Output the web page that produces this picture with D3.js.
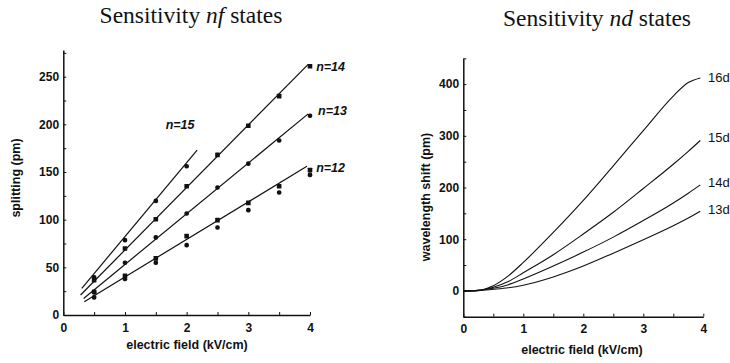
<!DOCTYPE html>
<html lang="en">
<head>
<meta charset="utf-8">
<title>Sensitivity nf / nd states</title>
<script src="https://d3js.org/d3.v7.min.js"></script>
<style>
  body { margin: 0; background: #fff; }
  .title { font-family: "Liberation Serif", "Times New Roman", serif; font-size: 23.5px; fill: #111; }
  .axis text { font-family: "Liberation Sans", Arial, sans-serif; font-weight: bold; font-size: 12px; fill: #111; }
  .axis path, .axis line { stroke: #111; }
  .axis path { stroke-width: 1.5; }
  .lab { font-family: "Liberation Sans", Arial, sans-serif; font-weight: bold; font-size: 12.5px; fill: #111; }
  .nlab { font-family: "Liberation Sans", Arial, sans-serif; font-weight: bold; font-style: italic; font-size: 12.5px; fill: #111; }
  .dlab { font-family: "Liberation Sans", Arial, sans-serif; font-size: 13px; fill: #111; }
  .fit { fill: none; stroke: #111; stroke-width: 1.2; }
  .curve { fill: none; stroke: #111; stroke-width: 1.1; }
</style>
</head>
<body>
<script>
// ---- nf states: measured splittings (pm) vs field (kV/cm) ----
var fields = [0.5, 1, 1.5, 2, 2.5, 3, 3.5, 4];
var n15 = [39.5, 78.5, 119.7, 156];
var n14 = [36.6, 69.8, 100.5, 135, 168, 198.6, 229.6, 261];
var n13 = [23.7, 54.8, 81.4, 106.5, 133.7, 158.8, 183, 209];
var n12a = [24.4, 41, 59.4, 82.7, 99.5, 117.6, 135, 152];
var n12b = [18.5, 37.7, 54.8, 73.3, 91.8, 110, 128.5, 147];
// fitted lines: [x0, y0, x1, y1]
var fitNames = ["n=15", "n=14", "n=13", "n=12"];
var fits = [[0.30, 28, 2.17, 173], [0.28, 21, 3.97, 263], [0.33, 17.4, 3.97, 211], [0.34, 14, 3.95, 156]];

// ---- nd states: wavelength shift (pm) vs field (kV/cm) ----
var ndX = [0, 0.25, 0.5, 0.75, 1, 1.5, 2, 2.5, 3, 3.5, 3.75, 3.95];
var d16 = [0, 1, 10, 29, 55, 113, 175, 242, 310, 377, 403, 412];
var d15 = [0, 1, 7, 18, 35, 70, 110, 152, 198, 245, 270, 291];
var d14 = [0, 1, 5, 12, 23, 48, 75, 104, 136, 170, 189, 205];
var d13 = [0, 0.5, 3, 6, 11, 27, 48, 73, 99, 126, 141, 154];
var ndNames = ["16d", "15d", "14d", "13d"];

var W = 730, H = 363;
var svg = d3.select("body").append("svg").attr("width", W).attr("height", H);

// ================= left panel =================
var xL = d3.scaleLinear().domain([0, 4]).range([63.3, 310]);
var yL = d3.scaleLinear().domain([0, 278]).range([315, 50]);

svg.append("text").attr("class", "title").attr("x", 191).attr("y", 23).attr("text-anchor", "middle")
  .html('Sensitivity <tspan font-style="italic">nf</tspan> states');

svg.append("g").attr("class", "axis").attr("transform", "translate(0,315)")
  .call(d3.axisBottom(xL).ticks(8).tickSize(-3).tickSizeOuter(0)
    .tickFormat(function(d) { return d % 1 === 0 ? d : ""; }))
  .call(function(g) { g.selectAll(".tick text").attr("dy", "1.15em"); });
svg.append("g").attr("class", "axis").attr("transform", "translate(63.3,0)")
  .call(d3.axisLeft(yL).tickValues(d3.range(0, 276, 25)).tickSize(-3).tickSizeOuter(0)
    .tickFormat(function(d) { return d % 50 === 0 ? d : ""; }))
  .call(function(g) { g.selectAll(".tick text").attr("dx", "-0.1em"); });

fits.forEach(function(f) {
  svg.append("line").attr("class", "fit")
    .attr("x1", xL(f[0])).attr("y1", yL(f[1])).attr("x2", xL(f[2])).attr("y2", yL(f[3]));
});

[n15, n14, n13, n12a, n12b].forEach(function(s, i) {
  svg.append("g").selectAll("rect").data(s).join("rect")
    .attr("x", function(d, j) { return xL(fields[j]) - 2.3; })
    .attr("y", function(d) { return yL(d) - 2.3; })
    .attr("width", 4.6).attr("height", 4.6).attr("rx", i % 2 ? 0.5 : 2)
    .attr("fill", "#111");
});

var nPos = [[1.66, 199], [4.1, 260], [4.13, 214], [4.1, 154]];
fitNames.forEach(function(t, i) {
  svg.append("text").attr("class", "nlab").attr("x", xL(nPos[i][0])).attr("y", yL(nPos[i][1]) + 4).text(t);
});

svg.append("text").attr("class", "lab").attr("x", 187).attr("y", 349).attr("text-anchor", "middle")
  .text("electric field (kV/cm)");
svg.append("text").attr("class", "lab").attr("text-anchor", "middle")
  .attr("transform", "translate(20,178) rotate(-90)").text("splitting (pm)");

// ================= right panel =================
var xR = d3.scaleLinear().domain([0, 4]).range([463.3, 703.3]);
var yR = d3.scaleLinear().domain([-50, 450]).range([316.7, 58.3]);

svg.append("text").attr("class", "title").attr("x", 597).attr("y", 26).attr("text-anchor", "middle")
  .html('Sensitivity <tspan font-style="italic">nd</tspan> states');

svg.append("g").attr("class", "axis").attr("transform", "translate(0,316.7)")
  .call(d3.axisBottom(xR).ticks(8).tickSize(-3).tickSizeOuter(0)
    .tickFormat(function(d) { return d % 1 === 0 ? d : ""; }))
  .call(function(g) { g.selectAll(".tick text").attr("dy", "1.15em"); });
svg.append("g").attr("class", "axis").attr("transform", "translate(463.3,0)")
  .call(d3.axisLeft(yR).tickValues(d3.range(-50, 451, 50)).tickSize(-3).tickSizeOuter(0)
    .tickFormat(function(d) { return d % 100 === 0 ? d : ""; }))
  .call(function(g) { g.selectAll(".tick text").attr("dx", "-0.1em"); });

var line = d3.line().x(function(d, j) { return xR(ndX[j]); }).y(function(d) { return yR(d); })
  .curve(d3.curveMonotoneX);
[d16, d15, d14, d13].forEach(function(s) {
  svg.append("path").datum(s).attr("class", "curve").attr("d", line);
});

var dY = [413, 298, 210, 159];
ndNames.forEach(function(t, i) {
  svg.append("text").attr("class", "dlab").attr("x", xR(4.08)).attr("y", yR(dY[i]) + 5).text(t);
});

svg.append("text").attr("class", "lab").attr("x", 582).attr("y", 354).attr("text-anchor", "middle")
  .text("electric field (kV/cm)");
svg.append("text").attr("class", "lab").attr("text-anchor", "middle")
  .attr("transform", "translate(430,197) rotate(-90)").text("wavelength shift (pm)");
</script>
</body>
</html>
